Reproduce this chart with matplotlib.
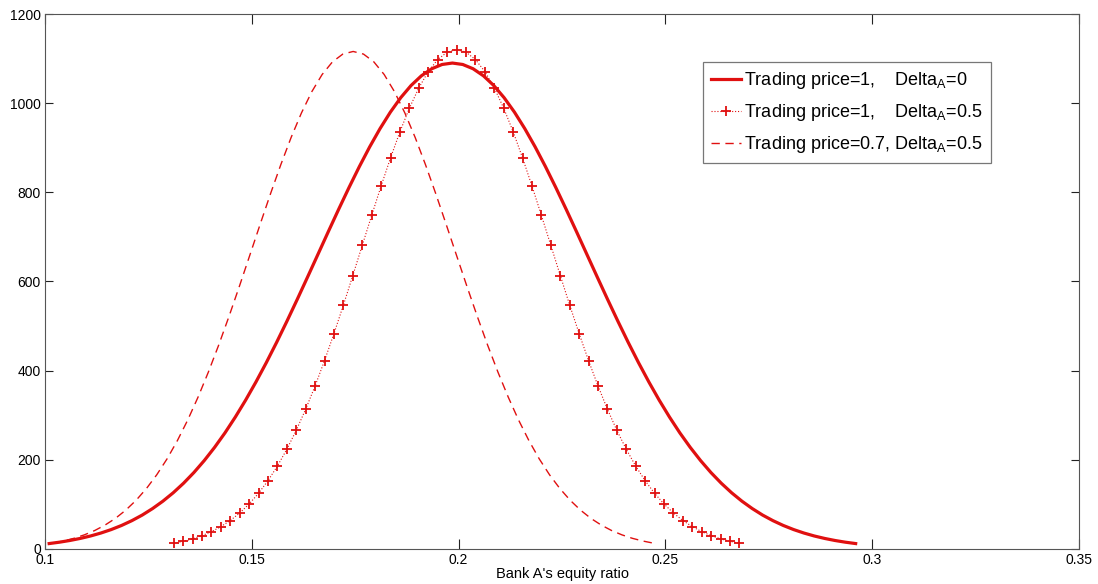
import numpy as np
import matplotlib
matplotlib.use("Agg")
import matplotlib.pyplot as plt

plt.rcParams['font.family'] = ['Liberation Sans', 'DejaVu Sans']

# trading price = 1, Delta_A = 0  (sampled every 0.0025)
x_base = np.linspace(0.101, 0.296, 79)
y_base = [12.1, 15.2, 19.0, 23.6, 29.1, 35.7, 43.5, 52.7, 63.5, 76.0,
          90.6, 107.2, 126.1, 147.5, 171.5, 198.3, 227.9, 260.3, 295.7, 333.8,
          374.6, 417.9, 463.5, 511.1, 560.2, 610.4, 661.1, 711.9, 762.0, 810.8,
          857.7, 902.0, 942.9, 979.9, 1012.3, 1039.6, 1061.4, 1077.2, 1086.8,
          1090.0,
          1086.8, 1077.2, 1061.4, 1039.6, 1012.3, 979.9, 942.9, 902.0, 857.7,
          810.8, 762.0, 711.9, 661.1, 610.4, 560.2, 511.1, 463.5, 417.9, 374.6,
          333.8, 295.7, 260.3, 227.9, 198.3, 171.5, 147.5, 126.1, 107.2, 90.6,
          76.0, 63.5, 52.7, 43.5, 35.7, 29.1, 23.6, 19.0, 15.2, 12.1]

# trading price = 1, Delta_A = 0.5
x_delta = np.linspace(0.1311, 0.2679, 61)
y_delta = [12.7, 17.1, 22.7, 29.8, 38.8, 50.0, 63.8, 80.6, 100.8, 124.8,
           153.1, 185.9, 223.5, 266.0, 313.5, 365.7, 422.4, 483.1, 547.0, 613.4,
           681.0, 748.2, 814.2, 877.2, 936.1, 988.9, 1034.3, 1071.0, 1097.9, 1114.4,
           1120.0,
           1114.4, 1097.9, 1071.0, 1034.3, 988.9, 936.1, 877.2, 814.2, 748.2, 681.0,
           613.4, 547.0, 483.1, 422.4, 365.7, 313.5, 266.0, 223.5, 185.9, 153.1,
           124.8, 100.8, 80.6, 63.8, 50.0, 38.8, 29.8, 22.7, 17.1, 12.7]

# trading price = 0.7, Delta_A = 0.5
x_low = np.linspace(0.102, 0.247, 59)
y_low = [13.2, 17.9, 23.9, 31.6, 41.3, 53.5, 68.5, 86.9, 109.0, 135.3,
         166.2, 202.0, 243.0, 289.2, 340.6, 396.9, 457.6, 522.1, 589.4, 658.5,
         727.9, 796.3, 861.8, 923.0, 978.1, 1025.7, 1064.3, 1092.7, 1110.1,
         1116.0,
         1110.1, 1092.7, 1064.3, 1025.7, 978.1, 923.0, 861.8, 796.3, 727.9, 658.5,
         589.4, 522.1, 457.6, 396.9, 340.6, 289.2, 243.0, 202.0, 166.2, 135.3,
         109.0, 86.9, 68.5, 53.5, 41.3, 31.6, 23.9, 17.9, 13.2]

labels = ['Trading price=1,    Delta$_\\mathregular{A}$=0',
          'Trading price=1,    Delta$_\\mathregular{A}$=0.5',
          'Trading price=0.7, Delta$_\\mathregular{A}$=0.5']

red = '#e01010'

fig = plt.figure(figsize=(10.98, 5.84), dpi=100)
ax = fig.add_axes([0.041, 0.060, 0.9417, 0.916])

ax.plot(x_base, y_base, color=red, lw=2.3, label=labels[0])
ax.plot(x_delta, y_delta, color=red, lw=0.8, ls=':', marker='+',
        ms=7, mew=1.3, label=labels[1])
ax.plot(x_low, y_low, color=red, lw=1.0, ls=(0, (6, 4)), label=labels[2])

ax.set_xlim(0.1, 0.35)
ax.set_ylim(0, 1200)
ax.set_xticks([0.1, 0.15, 0.2, 0.25, 0.3, 0.35])
ax.set_xticklabels(['0.1', '0.15', '0.2', '0.25', '0.3', '0.35'])
ax.set_yticks(range(0, 1201, 200))

for s in ax.spines.values():
    s.set_color('#555555')
    s.set_linewidth(0.8)

ax.tick_params(axis='both', direction='in', top=True, right=True,
               labelsize=10, colors='#222222', width=0.8, pad=3)
ax.tick_params(axis='x', length=7)
ax.tick_params(axis='y', length=5.5)
for t in ax.get_xticklabels() + ax.get_yticklabels():
    t.set_color('black')

ax.set_xlabel("Bank A's equity ratio", fontsize=10.5, labelpad=0)

leg = ax.legend(loc='upper left', bbox_to_anchor=(0.636, 0.910),
                borderaxespad=0, fancybox=False, framealpha=1,
                edgecolor='#777777', fontsize=13, handlelength=1.7,
                handletextpad=0.15, labelspacing=0.6, borderpad=0.45)
leg.get_frame().set_linewidth(0.9)

fig.savefig('out.png', dpi=100)
